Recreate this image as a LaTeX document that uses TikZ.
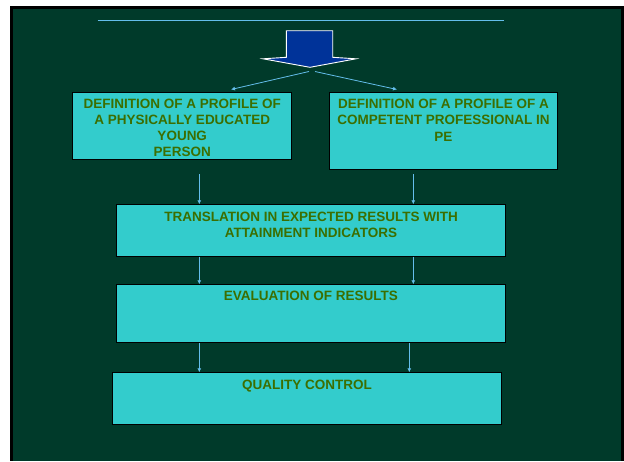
\documentclass[tikz,border=0pt]{standalone}
\usepackage{fontspec}
\setmainfont{Liberation Sans}
\usetikzlibrary{arrows.meta}
\definecolor{bggreen}{RGB}{0,58,42}
\definecolor{boxcyan}{RGB}{51,204,204}
\definecolor{txtgreen}{RGB}{60,110,0}
\definecolor{arrowblue}{RGB}{0,51,153}
\definecolor{linkblue}{RGB}{100,190,235}
\tikzset{
  box/.style={draw=black, line width=0.9pt, fill=boxcyan, inner sep=0pt},
  boxtext/.style={anchor=north, inner sep=0pt, align=center, text=txtgreen,
    font=\fontsize{13.5}{16.2}\selectfont\bfseries},
  link/.style={draw=linkblue, line width=0.8pt, -{Latex[length=4pt,width=4pt]}},
}
\begin{document}
\begin{tikzpicture}[x=1pt,y=-1pt]
\useasboundingbox (0,0) rectangle (624,461);
\fill[white] (0,0) rectangle (624,461);
\fill[black] (10,6) rectangle (624,461);
\fill[bggreen] (13,9) rectangle (621,461);
% top rule
\draw[linkblue, line width=1.1pt] (97.7,20.7) -- (503.6,20.7);
% block arrow
\draw[white, line width=0.9pt, fill=arrowblue, line join=miter]
  (286.3,30.7) -- (332.7,30.7) -- (332.7,57.3) -- (356,58.8) -- (310,67.3)
  -- (263,58.8) -- (286.3,57.3) -- cycle;
\coordinate (tipL) at (309,71.5);
\coordinate (tipR) at (315,71.5);
% boxes
\node[box, anchor=north west, minimum width=219pt, minimum height=67.3pt] (defL) at (72.3,91.7) {};
\node[box, anchor=north west, minimum width=227.4pt, minimum height=77.3pt] (defR) at (329.3,91.7) {};
\node[box, anchor=north west, minimum width=389.3pt, minimum height=51.4pt] (trans) at (116,204.3) {};
\node[box, anchor=north west, minimum width=389pt, minimum height=58pt] (eval) at (116,284.3) {};
\node[box, anchor=north west, minimum width=389.6pt, minimum height=51.7pt] (qc) at (111.7,372.3) {};
% texts
\node[boxtext] (defLt) at ([yshift=-6.8pt]defL.north) {DEFINITION OF A PROFILE OF\\A PHYSICALLY EDUCATED\\YOUNG\\PERSON};
\node[boxtext] (defRt) at ([yshift=-7.3pt]defR.north) {DEFINITION OF A PROFILE OF A\\COMPETENT PROFESSIONAL IN\\PE};
\node[boxtext] (transt) at ([yshift=-7.3pt]trans.north) {TRANSLATION IN EXPECTED RESULTS WITH\\ATTAINMENT INDICATORS};
\node[boxtext] (evalt) at ([yshift=-7pt]eval.north) {EVALUATION OF RESULTS};
\node[boxtext] (qct) at ([yshift=-7.9pt]qc.north) {QUALITY CONTROL};
% connectors from arrow
\draw[link] (tipL) -- (231,89.5);
\draw[link] (tipR) -- (397,89.5);
% vertical connectors
\coordinate (a1) at (199.3,174);
\coordinate (a2) at (413.3,174);
\draw[link] (a1) -- (a1 |- trans.north);
\draw[link] (a2) -- (a2 |- trans.north);
\draw[link] ([xshift=199.3pt]trans.south -| 0,0) -- ([xshift=199.3pt]eval.north -| 0,0);
\draw[link] ([xshift=413.3pt]trans.south -| 0,0) -- ([xshift=413.3pt]eval.north -| 0,0);
\draw[link] ([xshift=199.3pt]eval.south -| 0,0) -- ([xshift=199.3pt]qc.north -| 0,0);
\draw[link] ([xshift=409.3pt]eval.south -| 0,0) -- ([xshift=409.3pt]qc.north -| 0,0);
\end{tikzpicture}
\end{document}
